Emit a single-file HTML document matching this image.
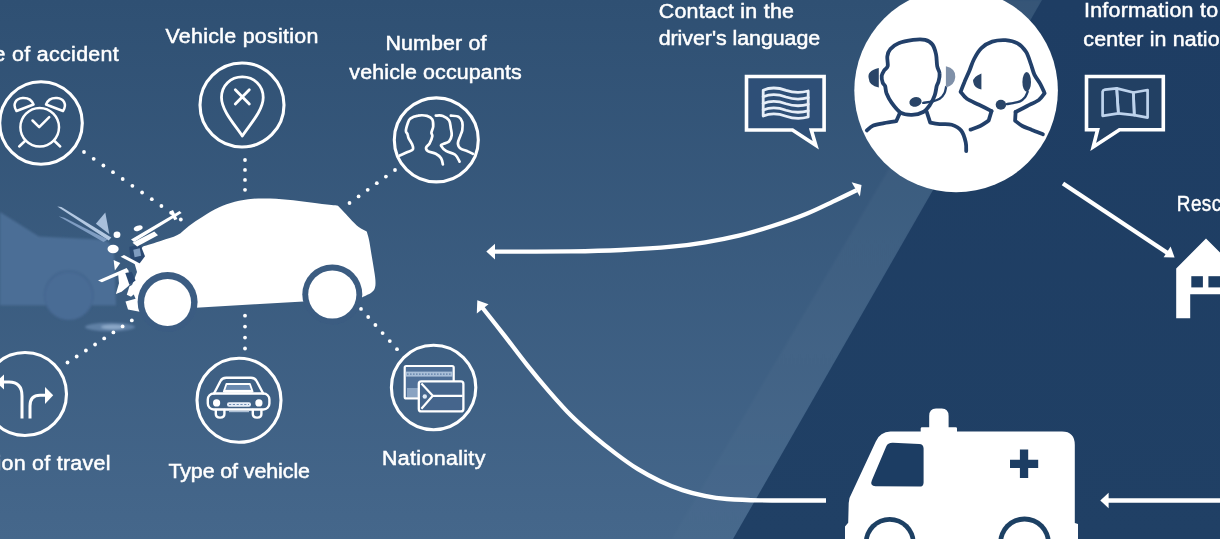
<!DOCTYPE html>
<html>
<head>
<meta charset="utf-8">
<title>Emergency call infographic</title>
<style>
  html, body { margin: 0; padding: 0; background: #2f5073; }
  body { width: 1220px; height: 539px; overflow: hidden; font-family: "Liberation Sans", sans-serif; }
  svg { display: block; }
  text { font-family: "Liberation Sans", sans-serif; fill: #ffffff; font-size: 20px; stroke: #ffffff; stroke-width: 0.5px; }
</style>
</head>
<body>
<svg width="1220" height="539" viewBox="0 0 1220 539">
  <defs>
    <linearGradient id="bgL" x1="0" y1="0" x2="0" y2="1">
      <stop offset="0" stop-color="#2f5073"/>
      <stop offset="1" stop-color="#45678b"/>
    </linearGradient>
    <linearGradient id="bgR" x1="0" y1="0" x2="0" y2="1">
      <stop offset="0" stop-color="#1e3d63"/>
      <stop offset="1" stop-color="#204065"/>
    </linearGradient>
    <linearGradient id="band" x1="0" y1="0" x2="0" y2="1">
      <stop offset="0" stop-color="#ffffff" stop-opacity="0.032"/>
      <stop offset="0.55" stop-color="#ffffff" stop-opacity="0.026"/>
      <stop offset="1" stop-color="#ffffff" stop-opacity="0.014"/>
    </linearGradient>
    <filter id="soft" x="-5%" y="-5%" width="110%" height="110%"><feGaussianBlur stdDeviation="0.7"/></filter>
    <filter id="soft2" x="-5%" y="-5%" width="110%" height="110%"><feGaussianBlur stdDeviation="1.2"/></filter>
    <filter id="soft3" x="-10%" y="-10%" width="120%" height="120%"><feGaussianBlur stdDeviation="2"/></filter>
  </defs>
  <!-- ===== BACKGROUND ===== -->
  <rect x="0" y="0" width="1220" height="539" fill="url(#bgL)"/>
  <polygon points="988,0 1042,0 733,539 672,539" fill="url(#band)" filter="url(#soft2)"/>
  <polygon points="1042,0 1220,0 1220,539 733,539" fill="url(#bgR)"/>
  <!-- ===== GHOST CAR ===== -->
  <g id="ghost" filter="url(#soft2)">
    <path fill="#4c6e96" d="M0,212 L38.9,236.5 L103.8,239.8 Q113,243 114,256 L116,305.3 L0,305.3 Z"/>
    <circle cx="68.8" cy="294.9" r="25.2" fill="#456790"/>
    <circle cx="68.8" cy="296.2" r="23.4" fill="#4a6c95"/>
    <ellipse cx="110" cy="327" rx="25" ry="4.2" fill="#7c9bc1" opacity="0.55"/>
    <ellipse cx="113" cy="327" rx="12" ry="2.6" fill="#a9c1dd" opacity="0.6"/>
  </g>
  <!-- ===== DOTTED CONNECTORS ===== -->
  <g id="dots" fill="#ffffff" filter="url(#soft)">
    <circle cx="84.0" cy="152.0" r="1.9"/><circle cx="93.7" cy="158.8" r="1.9"/><circle cx="103.4" cy="165.5" r="1.9"/><circle cx="113.0" cy="172.2" r="1.9"/><circle cx="122.7" cy="179.0" r="1.9"/><circle cx="132.4" cy="185.8" r="1.9"/><circle cx="142.1" cy="192.5" r="1.9"/><circle cx="151.8" cy="199.2" r="1.9"/><circle cx="161.4" cy="206.0" r="1.9"/><circle cx="171.1" cy="212.8" r="1.9"/><circle cx="180.8" cy="219.5" r="1.9"/>
    <circle cx="245.0" cy="160.0" r="1.9"/><circle cx="245.0" cy="169.9" r="1.9"/><circle cx="245.0" cy="179.9" r="1.9"/><circle cx="245.0" cy="189.8" r="1.9"/>
    <circle cx="395.0" cy="170.0" r="1.9"/><circle cx="385.9" cy="176.6" r="1.9"/><circle cx="376.8" cy="183.2" r="1.9"/><circle cx="367.7" cy="189.8" r="1.9"/><circle cx="358.6" cy="196.4" r="1.9"/><circle cx="349.5" cy="203.0" r="1.9"/>
    <circle cx="131.8" cy="320.4" r="1.9"/><circle cx="122.6" cy="326.4" r="1.9"/><circle cx="113.4" cy="332.4" r="1.9"/><circle cx="104.2" cy="338.4" r="1.9"/><circle cx="95.1" cy="344.5" r="1.9"/><circle cx="85.9" cy="350.5" r="1.9"/><circle cx="76.7" cy="356.5" r="1.9"/><circle cx="67.5" cy="362.5" r="1.9"/>
    <circle cx="245.0" cy="315.7" r="1.9"/><circle cx="245.0" cy="326.6" r="1.9"/><circle cx="245.0" cy="337.6" r="1.9"/><circle cx="245.0" cy="348.5" r="1.9"/>
    <circle cx="361.0" cy="308.9" r="1.9"/><circle cx="368.2" cy="317.0" r="1.9"/><circle cx="375.4" cy="325.0" r="1.9"/><circle cx="382.6" cy="333.1" r="1.9"/><circle cx="389.8" cy="341.1" r="1.9"/><circle cx="397.0" cy="349.2" r="1.9"/>
  </g>
  <!-- ===== ICON CIRCLES ===== -->
  <g id="circles" fill="none" stroke="#ffffff" stroke-width="3.1" filter="url(#soft)">
    <circle cx="41" cy="123" r="41.3"/>
    <circle cx="242" cy="105" r="42"/>
    <circle cx="436.3" cy="139.9" r="42"/>
    <circle cx="25" cy="394" r="41.5"/>
    <circle cx="239" cy="400.3" r="42"/>
    <circle cx="433.6" cy="387.5" r="42.2"/>
  </g>
  <!-- clock -->
  <g fill="none" stroke="#ffffff" stroke-width="2.5" stroke-linecap="round" stroke-linejoin="round" filter="url(#soft)">
    <circle cx="39.7" cy="127.2" r="19.3"/>
    <path d="M16.5,111 C12,104 16,98.5 22.5,98 C28,97.6 32,100.5 33.5,104.5 Z"/>
    <path d="M63,111 C67.5,104 63.5,98.5 57,98 C51.5,97.6 47.5,100.5 46,104.5 Z"/>
    <path d="M32.5,120.5 L39.2,127.2 L49.2,117.2"/>
    <path d="M25.5,140.5 L19.2,146.5 M54,140.5 L60.2,146.5"/>
  </g>
  <!-- pin -->
  <g fill="none" stroke="#ffffff" stroke-width="2.8" stroke-linecap="round" stroke-linejoin="round" filter="url(#soft)">
    <path d="M242.3,136 C236,126 221.5,111 221.5,97.5 C221.5,85.5 230.5,76.8 242.3,76.8 C254.1,76.8 263.2,85.5 263.2,97.5 C263.2,111 248.5,126 242.3,136 Z"/>
    <path d="M235.3,89.8 L249.3,104 M249.3,89.8 L235.3,104"/>
  </g>
  <!-- people -->
  <g fill="none" stroke="#ffffff" stroke-width="2.7" stroke-linecap="round" stroke-linejoin="round" filter="url(#soft)">
    <path d="M399.7,155.6 C401.0,155.0 405.4,153.1 407.6,152.0 C409.8,151.0 412.2,150.7 412.9,149.4 C413.6,148.1 412.8,146.0 412.0,144.1 C411.3,142.2 409.2,139.6 408.5,137.9 C407.8,136.3 408.1,135.6 407.6,134.4 C407.2,133.2 405.9,132.7 405.9,130.9 C405.9,129.1 406.9,125.9 407.6,123.8 C408.4,121.8 408.5,119.9 410.3,118.6 C412.0,117.2 415.4,116.0 418.2,115.6 C421.0,115.1 424.7,115.3 427.0,115.9 C429.4,116.6 431.3,117.7 432.3,119.4 C433.3,121.2 433.3,124.3 433.2,126.5 C433.0,128.7 431.6,131.0 431.4,132.7 C431.3,134.3 432.6,134.4 432.3,136.2 C432.0,137.9 430.7,141.3 429.7,143.2 C428.6,145.1 426.4,146.3 426.1,147.6 C425.8,149.0 426.3,150.1 427.9,151.2 C429.5,152.2 433.6,152.6 435.8,153.8 C438.0,155.0 439.9,156.4 441.1,158.2 C442.3,160.0 442.6,163.4 442.9,164.4"/>
    <path d="M435.8,115.6 C437.0,115.6 440.7,115.1 442.9,115.9 C445.1,116.7 447.7,118.3 449.0,120.3 C450.4,122.4 450.4,125.8 450.8,128.2 C451.2,130.7 452.0,133.1 451.7,135.3 C451.4,137.5 450.5,140.0 449.0,141.5 C447.6,142.9 444.2,143.4 442.9,144.1 C441.6,144.8 440.5,144.7 441.1,145.9 C441.7,147.0 444.0,149.7 446.4,151.2 C448.7,152.6 453.0,152.9 455.2,154.7 C457.4,156.4 458.9,160.6 459.6,161.7"/>
    <path d="M450.8,115.6 C452.1,115.8 456.8,115.7 458.7,116.8 C460.6,117.9 461.7,119.9 462.3,122.1 C462.8,124.3 462.6,127.8 462.3,130.0 C462.0,132.2 461.2,133.1 460.5,135.3 C459.8,137.5 457.9,141.0 457.9,143.2 C457.9,145.4 458.9,147.2 460.5,148.5 C462.1,149.8 465.5,150.3 467.5,151.2 C469.6,152.0 472.0,153.4 472.8,153.8"/>
  </g>
  <!-- direction -->
  <g filter="url(#soft)">
    <g fill="none" stroke="#ffffff" stroke-width="3" stroke-linecap="butt" stroke-linejoin="round">
      <path d="M22,418.5 L22,396 C22,387 18,382 9,382 L2,382"/>
      <path d="M30,418.5 L30,406 C30,399 33,395.3 40,395.3 L46,395.3"/>
    </g>
    <polygon fill="#ffffff" points="45,387 53.2,395.3 45,404"/>
    <polygon fill="#ffffff" points="-4,382 4,374.5 4,389.5"/>
  </g>
  <!-- car front -->
  <g filter="url(#soft)">
    <g fill="none" stroke="#ffffff" stroke-width="2.4" stroke-linejoin="round" stroke-linecap="round">
      <path d="M214,393.5 L220.5,381 Q222,377.8 226.2,377.8 L251,377.8 Q255,377.8 256.6,381 L263.2,393.5"/>
      <rect x="207.8" y="393.5" width="61.6" height="16" rx="6" ry="6"/>
      <path d="M215.8,410 L215.8,414 Q215.8,417.6 220.1,417.6 Q224.4,417.6 224.4,414 L224.4,410"/>
      <path d="M252.8,410 L252.8,414 Q252.8,417.6 257.1,417.6 Q261.4,417.6 261.4,414 L261.4,410"/>
    </g>
    <path d="M223.8,391.6 L226.4,384 L249.9,384 L252.6,391.6 Z" fill="#6a8ab0" stroke="#ffffff" stroke-width="1.8" stroke-linejoin="round"/>
    <path d="M224.5,391.2 L252,391.2" stroke="#ffffff" stroke-width="2.6" fill="none"/>
    <circle cx="216.6" cy="402.9" r="3.6" fill="#ffffff"/>
    <circle cx="258.9" cy="402.9" r="3.6" fill="#ffffff"/>
    <rect x="227" y="402.2" width="24" height="4.6" rx="2" fill="#e6eef8"/>
    <path d="M229,404.5 L249,404.5" stroke="#6f8db3" stroke-width="1.2" stroke-dasharray="2.2 1.6" fill="none"/>
    <path d="M229,411.5 L249,411.5" stroke="#c7d6e8" stroke-width="1.4" fill="none" opacity="0.8"/>
  </g>
  <!-- nationality -->
  <g filter="url(#soft)" stroke-linejoin="round">
    <rect x="404.7" y="366" width="49" height="32.4" rx="1.5" fill="#4f7098" stroke="#ffffff" stroke-width="2.2"/>
    <rect x="405.8" y="371.6" width="46.8" height="5" fill="#a9bfd8"/>
    <path d="M407,374.1 L451,374.1" stroke="#5f7fa6" stroke-width="1.2" stroke-dasharray="1.6 1.4" fill="none"/>
    <rect x="407" y="388" width="11" height="9" fill="#93acc9" opacity="0.85"/>
    <rect x="418.8" y="381.4" width="44.6" height="30" rx="2.5" fill="#45658c" stroke="#ffffff" stroke-width="2.3"/>
    <path d="M421.4,383.6 L432.8,395.8 L421.4,408.8 M432.8,395.8 L462.6,395.8" fill="none" stroke="#ffffff" stroke-width="2.2"/>
    <circle cx="424.8" cy="396.5" r="2.2" fill="#dfe9f5"/>
  </g>
  <!-- ===== MAIN CAR ===== -->
  <g id="car" filter="url(#soft)">
    <path fill="#ffffff" d="M143.0,246.6 C146.1,245.6 155.6,242.7 161.3,240.8 C167.0,238.9 172.8,237.6 177.4,235.1 C182.0,232.6 184.7,229.0 188.9,225.9 C193.1,222.8 197.6,219.8 202.6,216.7 C207.6,213.6 213.3,210.0 218.7,207.5 C224.1,205.0 229.1,203.2 234.8,201.8 C240.5,200.4 246.2,199.3 253.1,198.8 C260.0,198.3 268.5,198.4 276.1,198.8 C283.8,199.2 291.4,200.2 299.0,201.1 C306.6,202.0 315.5,203.3 322.0,204.1 C328.5,204.9 335.3,205.4 338.0,205.7  C339.9,207.7 346.1,214.3 349.5,217.9 C352.9,221.5 355.8,224.8 358.7,227.1 C361.6,229.4 365.4,230.8 366.7,231.6  C367.1,232.9 368.2,236.1 369.0,239.7 C369.8,243.3 370.5,248.8 371.3,253.4 C372.1,258.0 372.9,262.8 373.6,267.2 C374.3,271.6 375.2,276.6 375.4,280.0 C375.6,283.4 375.6,285.4 375.0,287.5 C374.4,289.6 373.7,290.8 371.5,292.5 C369.3,294.2 363.6,296.7 362.0,297.5 L303.6,301.5 L195.7,307.7 L141,312 L128,309.5 L125.5,301.5 L135.6,298.8 L131,288 L137,272 L133,258 Z"/>
    <circle cx="167.6" cy="302" r="30" fill="#3b5c82"/>
    <circle cx="332.3" cy="294.5" r="30" fill="#3a5b81"/>
    <circle cx="167.6" cy="302.5" r="23.5" fill="#ffffff"/>
    <circle cx="332.3" cy="294.5" r="24.1" fill="#ffffff"/>
  </g>
  <!-- crash debris -->
  <g id="crash" filter="url(#soft)">
    <path d="M57.3,206.4 L61.4,206.9 L111.3,237.6 L108.7,240.4 Z" fill="#b4c9e2"/>
    <path d="M58.6,216.3 L64.5,217.8 L107.6,239.4 L103.5,242.0 Z" fill="#7f9dc2"/>
    <path d="M95.9,223.8 L105.3,212.4 L109.4,234.2 Z" fill="#a9c0dc"/>
    <path d="M129.2,246.9 L140.1,244.1 L145.0,256.3 L138.8,264.6 L130.5,260.4 Z" fill="#2b4a72"/>
    <path d="M133.3,249.8 L139.8,248.2 L141.1,255.7 L134.6,257.3 Z" fill="#7f9cc1"/>
    <path d="M131.0,239.6 L179.5,211.1 L181.6,212.9 L134.1,242.0 Z" fill="#ffffff"/>
    <path d="M132.5,242.8 L154.3,231.6 L158.0,235.2 L137.2,246.6 Z" fill="#ffffff"/>
    <path d="M169.6,211.4 L173.0,210.1 L177.4,218.9 L174.3,220.2 Z" fill="#ffffff"/>
    <ellipse cx="117.0" cy="234.7" rx="3.4" ry="3.2" fill="#ffffff"/>
    <ellipse cx="113.1" cy="249.0" rx="5.6" ry="4.2" fill="#ffffff"/>
    <ellipse cx="138.2" cy="228.2" rx="4.6" ry="2.6" fill="#ffffff" transform="rotate(-18 138.2 228.2)"/>
    <path d="M120.6,256.8 L124.0,255.0 L150.2,269.0 L148.1,271.0 Z" fill="#ffffff"/>
    <path d="M113.6,259.9 L120.3,263.0 L114.9,270.5 Z" fill="#ffffff"/>
    <path d="M98.0,280.6 L126.6,267.9 L128.6,270.8 L101.9,282.2 Z" fill="#ffffff"/>
    <path d="M118.0,272.9 L127.9,270.3 L133.6,280.6 L127.9,286.4 L121.6,291.8 L115.9,293.9 L119.0,283.2 Z" fill="#ffffff"/>
    <path d="M125.3,273.1 L131.8,271.8 L135.6,280.6 L129.4,284.8 Z" fill="#2b4a72"/>
    <path d="M129.4,286.4 L135.1,283.2 L137.2,291.5 L131.0,296.7 L126.8,294.7 Z" fill="#ffffff"/>
  </g>
  <!-- ===== ARROWS ===== -->
  <g id="arrows" fill="none" stroke="#ffffff" stroke-width="4.3" filter="url(#soft)">
    <path d="M492.0,251.7 C505.1,251.6 549.3,251.7 570.8,251.4 C592.3,251.1 604.4,250.8 621.2,250.0 C638.0,249.2 657.6,248.0 671.6,246.7 C685.6,245.4 694.0,244.2 705.2,242.3 C716.4,240.5 727.6,238.3 738.8,235.6 C750.0,232.9 761.2,229.6 772.4,226.0 C783.6,222.4 795.9,218.1 806.0,214.0 C816.1,209.9 824.5,205.6 832.9,201.6 C841.3,197.6 852.6,192.1 856.5,190.2"/>
    <path d="M826.0,500.5 C815.0,500.5 776.5,500.6 760.0,500.3 C743.5,500.1 736.2,499.7 727.0,499.0 C717.8,498.3 712.2,497.4 704.8,495.9 C697.4,494.4 689.9,492.6 682.5,490.1 C675.1,487.7 667.7,484.7 660.3,481.2 C652.9,477.7 645.4,473.8 638.0,469.2 C630.6,464.6 623.2,459.2 615.8,453.6 C608.4,448.0 600.9,442.1 593.5,435.8 C586.1,429.5 578.7,423.2 571.3,415.8 C563.9,408.4 556.4,399.8 549.0,391.3 C541.6,382.8 534.2,373.9 526.8,364.6 C519.4,355.3 512.0,345.3 504.5,335.6 C496.9,325.9 485.3,311.4 481.5,306.5"/>
    <path d="M1063,183.5 L1169,254"/>
    <path d="M1107,500.5 L1220,500.5"/>
  </g>
  <g id="heads" fill="#ffffff" filter="url(#soft)">
    <polygon points="486.3,251.6 495,243.8 495,259.6"/>
    <polygon points="861.5,185 859.9,196.6 851.6,182.2"/>
    <polygon points="477.3,300.3 488.5,304.3 476.8,313.5"/>
    <polygon points="1174.6,257.6 1163.6,257.2 1170.6,246.6"/>
    <polygon points="1100.3,500.5 1108.6,492.7 1108.6,508.3"/>
  </g>
  <!-- ===== SPEECH BUBBLES ===== -->
  <g filter="url(#soft)">
    <path d="M746.5,76.5 L824.1,76.5 L824.1,130 L811.3,130 L815.8,145.3 L792.5,130 L746.5,130 Z" fill="#2f4f77" stroke="#ffffff" stroke-width="3.6" stroke-linejoin="miter"/>
    <g fill="none" stroke="#e6eef8" stroke-width="2.8" stroke-linecap="round" stroke-linejoin="round">
      <path d="M763.2,90.2 C771,86.8 779,87.8 786,90.4 C793,92.8 801,93.0 808.2,91.0 L808.2,117 C801,119 793,118.8 786,116.2 C779,113.6 771,112.6 763.2,116 Z"/>
      <path d="M763.2,96.8 C771,93.4 779,94.4 786,97.0 C793,99.4 801,99.6 808.2,97.6"/>
      <path d="M763.2,103.5 C771,100.1 779,101.1 786,103.7 C793,106.1 801,106.3 808.2,104.3"/>
      <path d="M763.2,110.0 C771,106.6 779,107.6 786,110.2 C793,112.6 801,112.8 808.2,110.8"/>
    </g>
    <path d="M1086.5,76.5 L1163.3,76.5 L1163.3,129.8 L1119.5,129.8 L1093.2,147 L1097.6,129.8 L1086.5,129.8 Z" fill="#243f64" stroke="#ffffff" stroke-width="3.6" stroke-linejoin="miter"/>
    <g fill="none" stroke="#bdd3ec" stroke-width="2.7" stroke-linejoin="round">
      <path d="M1102.6,91.5 Q1103,89.8 1105,89.6 L1116.7,88.4 L1118.4,113.4 L1102.6,115.9 Z"/>
      <path d="M1116.7,88.4 L1133.4,92.5 L1134.3,115.1 L1118.4,113.4 Z"/>
      <path d="M1133.4,92.5 L1147.6,90 L1147.6,117.6 L1134.3,115.1 Z"/>
    </g>
  </g>
  <!-- ===== CALL CENTER ===== -->
  <circle cx="956.1" cy="90.5" r="101.8" fill="#ffffff" filter="url(#soft)"/>
  <g filter="url(#soft)">
    <g fill="none" stroke="#22406a" stroke-width="3.8" stroke-linecap="round" stroke-linejoin="round">
      <path d="M887.7,66.2 C888.3,63.9 886.9,59.4 887.3,56.5 C887.7,53.7 888.3,51.5 890.2,49.3 C892.0,47.1 894.8,44.8 898.6,43.3 C902.4,41.7 908.7,40.5 913.1,39.9 C917.5,39.3 921.9,39.1 925.1,39.9 C928.4,40.7 930.6,42.1 932.4,44.5 C934.2,46.8 935.2,50.5 936.0,54.1 C936.8,57.7 936.6,63.0 937.2,66.2 C937.8,69.4 939.4,70.9 939.6,73.4 C939.9,75.9 939.1,79.1 938.6,81.1 C938.2,83.2 937.4,83.6 936.7,86.0 C936.1,88.3 935.9,92.0 934.8,95.1 C933.7,98.3 931.9,102.0 930.0,104.8 C928.0,107.6 926.2,110.3 923.2,112.0 C920.2,113.7 915.6,114.8 911.9,114.9 C908.1,115.0 903.9,114.6 900.5,112.5 C897.1,110.4 893.7,105.6 891.4,102.4 C889.0,99.2 887.6,95.9 886.5,93.2 C885.5,90.5 885.7,87.7 885.1,86.0 C884.4,84.2 883.2,84.3 882.7,82.6 C882.1,80.9 881.5,77.8 881.7,75.8 C882.0,73.8 883.1,72.1 884.1,70.5 C885.1,68.9 887.2,68.5 887.7,66.2 Z"/>
      <path d="M900.0,112.8 L896.2,121.2  C894.2,121.5 887.9,122.4 884.1,123.1 C880.3,123.8 876.2,124.3 873.3,125.5 C870.4,126.7 867.8,129.6 866.8,130.4"/>
      <path d="M926.6,111.5 L930.2,122.6  C931.8,122.9 936.0,123.7 939.6,124.1 C943.2,124.5 948.1,123.7 951.7,124.8 C955.3,125.9 959.0,127.9 961.3,130.8 C963.7,133.7 964.9,138.8 965.7,142.2 C966.5,145.6 966.1,149.6 966.2,151.1"/>
      <path d="M1015.6,112.0 C1017.6,111.0 1023.3,108.0 1027.2,106.0 C1031.1,104.0 1035.9,102.1 1038.8,100.0 C1041.7,97.8 1043.6,94.3 1044.6,93.2  C1043.9,91.7 1042.2,87.4 1040.5,84.3 C1038.8,81.2 1036.0,78.0 1034.4,74.6 C1032.8,71.2 1032.2,67.6 1030.8,63.8 C1029.4,60.0 1028.2,55.1 1026.0,51.7 C1023.8,48.3 1021.0,45.2 1017.6,43.3 C1014.1,41.3 1009.7,40.4 1005.5,40.1 C1001.3,39.9 996.2,40.3 992.2,41.6 C988.2,42.9 984.4,45.2 981.4,48.1 C978.3,51.0 976.1,55.1 974.1,59.0 C972.1,62.8 970.9,67.2 969.3,71.0 C967.7,74.8 965.9,78.4 964.5,81.9 C963.0,85.3 961.3,90.1 960.6,91.8  C961.7,92.9 963.8,96.6 966.9,98.8 C969.9,100.9 974.8,102.7 979.0,104.8 C983.1,106.8 989.4,110.0 991.5,111.1"/>
      <path d="M991.5,111.1 L988.6,120.7  C987.2,121.6 983.2,124.5 980.2,126.0 C977.1,127.5 972.1,129.0 970.5,129.6"/>
      <path d="M1015.6,112.0 L1015.1,120.7  C1016.3,121.6 1019.6,124.5 1022.4,126.0 C1025.2,127.5 1028.6,128.5 1032.0,129.9 C1035.4,131.2 1041.1,133.5 1042.9,134.2"/>
    </g>
    <g fill="none" stroke="#22406a" stroke-width="2.3" stroke-linecap="round">
      <path d="M946.1,86.9 C945.8,88.0 945.5,91.2 944.4,93.2 C943.4,95.2 941.6,97.4 939.6,98.8 C937.6,100.1 935.1,100.7 932.4,101.4 C929.6,102.1 924.7,102.6 923.2,102.9"/>
      <path d="M1027.7,91.8 C1027.2,92.7 1026.1,95.9 1024.8,97.6 C1023.5,99.2 1021.9,100.5 1020.0,101.4 C1018.0,102.3 1015.4,102.7 1013.2,103.1 C1011.0,103.5 1007.8,103.9 1006.7,104.1"/>
    </g>
    <path d="M878.8,68.1 Q866.8,71.0 868.7,78.3 Q869.2,86.0 878.8,87.4 Z" fill="#2a4568"/>
    <path d="M945.9,66.2 Q956.0,68.6 955.3,77.0 Q954.6,85.5 945.9,87.4 Z" fill="#7f90a8"/>
    <ellipse cx="915.5" cy="101.9" rx="6.2" ry="4.8" fill="#2a4568" transform="rotate(-15 915.5 101.9)"/>
    <path d="M981.4,73.4 Q972.2,77.0 973.2,81.9 Q974.1,87.9 981.4,89.6 Z" fill="#2a4568"/>
    <ellipse cx="1026.7" cy="81.9" rx="4.3" ry="9.8" fill="#2a4568"/>
    <ellipse cx="1000.9" cy="104.8" rx="5.2" ry="5" fill="#2a4568"/>
  </g>
  <!-- ===== RESCUE STATION ===== -->
  <g filter="url(#soft)">
    <path d="M1206,238.5 L1176.2,268.5 L1176.2,318.2 L1190.2,318.2 L1190.2,294.3 L1220,294.3 L1220,252.5 Z" fill="#ffffff"/>
    <rect x="1191.3" y="276.2" width="11.6" height="11.2" fill="#1f3e63"/>
    <rect x="1208.4" y="276.2" width="12" height="11.2" fill="#1f3e63"/>
  </g>
  <!-- ===== AMBULANCE ===== -->
  <g filter="url(#soft)">
    <path d="M936,408.6 L941.8,408.6 Q948.6,408.8 948.6,416 L948.6,427.3 L955.8,427.3 Q957,427.3 957,428.6 L957,431.5 L1062,431.5 Q1074.8,431.5 1074.8,445 L1074.8,523 L1078,524 L1078,539 L845,539 L845,526.5 L848.2,522.8 L848.7,503 Q849,497.5 851.6,493.5 L875.8,441.5 Q880,432 890.5,431.6 L920.7,431.5 L920.7,428.6 Q920.7,427.3 922,427.3 L929.2,427.3 L929.2,416 Q929.2,408.8 936,408.6 Z" fill="#ffffff"/>
    <path d="M893,442.8 L919.2,443.9 Q923.6,444.1 923.6,448.5 L923.6,482.4 Q923.6,486.6 919.4,486.6 L875.5,486.2 Q869.6,486 871.8,480.6 L886.2,446.4 Q887.8,442.6 893,442.8 Z" fill="#1f3e63"/>
    <path d="M1019.9,449.6 L1028.2,449.6 L1028.2,459.7 L1038.2,459.7 L1038.2,468 L1028.2,468 L1028.2,478 L1019.9,478 L1019.9,468 L1010,468 L1010,459.7 L1019.9,459.7 Z" fill="#1f3e63"/>
    <circle cx="889.7" cy="543" r="26" fill="#1f3f63"/>
    <circle cx="1024.5" cy="543" r="26.4" fill="#1f3f63"/>
    <circle cx="889.7" cy="543" r="21.3" fill="#ffffff"/>
    <circle cx="1024.5" cy="543" r="21.6" fill="#ffffff"/>
  </g>
  <!-- ===== LABELS ===== -->
  <g id="labels" filter="url(#soft)">
    <text transform="translate(165.4,42.6) scale(1.070,1)" textLength="143.0" lengthAdjust="spacing">Vehicle position</text>
    <text transform="translate(385.4,50.0) scale(1.070,1)" textLength="94.4" lengthAdjust="spacing">Number of</text>
    <text transform="translate(349.3,78.9) scale(1.070,1)" textLength="161.2" lengthAdjust="spacing">vehicle occupants</text>
    <text transform="translate(168.4,477.8) scale(1.070,1)" textLength="132.3" lengthAdjust="spacing">Type of vehicle</text>
    <text transform="translate(382.0,464.7) scale(1.070,1)" textLength="96.6" lengthAdjust="spacing">Nationality</text>
    <text transform="translate(658.7,18.2) scale(1.070,1)" textLength="126.4" lengthAdjust="spacing">Contact in the</text>
    <text transform="translate(658.7,45.2) scale(1.070,1)" textLength="150.9" lengthAdjust="spacing">driver&#39;s language</text>
    <text transform="translate(1084.0,16.9) scale(1.070,1)" textLength="192.5" lengthAdjust="spacing">Information to rescue</text>
    <text transform="translate(1083.3,45.6) scale(1.070,1)" textLength="243.5" lengthAdjust="spacing">center in national language</text>
    <text transform="translate(-42.2,61.4) scale(1.070,1)" textLength="150.4" lengthAdjust="spacing">Time of accident</text>
    <text transform="translate(-61.1,470.0) scale(1.070,1)" textLength="160.3" lengthAdjust="spacing">Direction of travel</text>
    <text transform="translate(1176.8,211.2) scale(0.86,1)" style="font-size:22px;letter-spacing:0.5px;stroke-width:0.45px">Rescue center</text>
  </g>
</svg>
</body>
</html>
